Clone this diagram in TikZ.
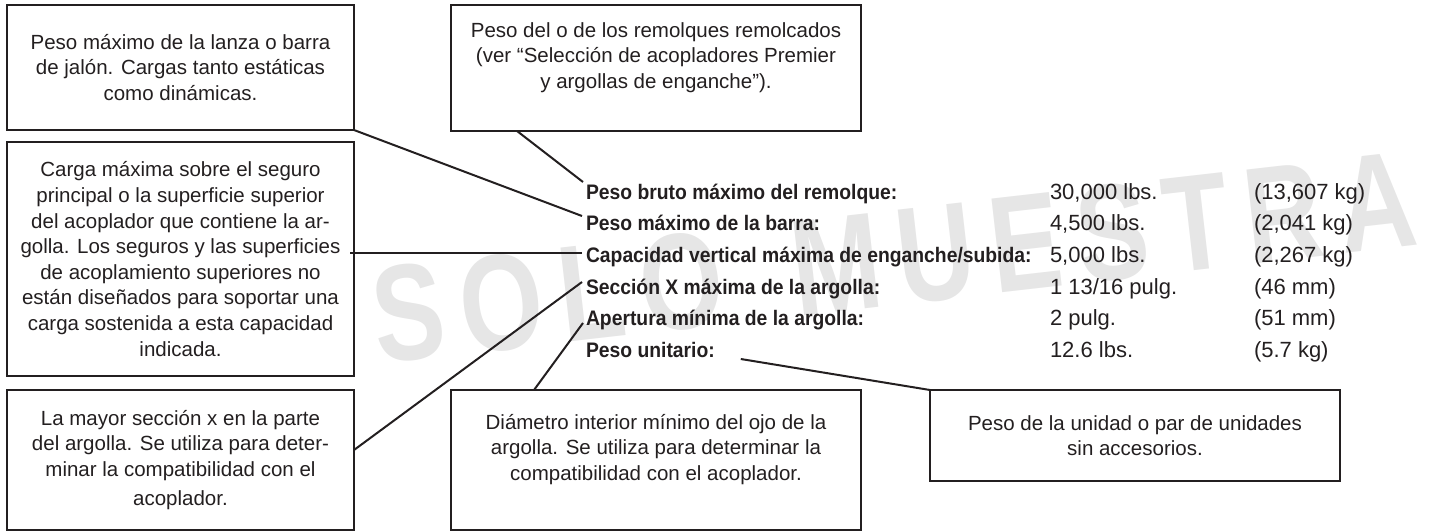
\documentclass[tikz,border=0pt]{standalone}
\usepackage{fontspec}
\setmainfont{Liberation Sans}
\newfontfamily\tblfont{Liberation Sans}[FakeStretch=0.92]
\newfontfamily\wmfont{Liberation Sans}[FakeStretch=0.78,LetterSpace=12]
\usepackage{xcolor}
\usepackage{tikz}
\usetikzlibrary{positioning}

\definecolor{ink}{HTML}{231F20}
\definecolor{wmgray}{HTML}{E6E6E6}

\tikzset{
  infobox/.style={draw=ink, line width=2.6pt, inner sep=0pt, outer sep=0pt,
    anchor=north west, align=center, text=ink,
    font=\fontsize{20.5}{25.6}\selectfont},
  lbl/.style={anchor=base west, inner sep=0pt, outer sep=0pt, text=ink,
    font={\tblfont\fontsize{21}{25}\selectfont\bfseries}},
  val/.style={anchor=base west, inner sep=0pt, outer sep=0pt, text=ink,
    font=\fontsize{22}{26}\selectfont},
  leader/.style={draw=ink, line width=2pt},
  wm/.style={anchor=base west, inner sep=0pt, text=wmgray,
    font={\wmfont\fontsize{137}{140}\selectfont\bfseries}},
}

\begin{document}
\begin{tikzpicture}[x=1pt,y=-1pt]
\useasboundingbox (0,0) rectangle (1444,531);

% watermark
\node[wm, rotate=6.5] (muestra) at (378,364) {SOLO\hspace{70pt}MUESTRA};

% boxes
\node[infobox, minimum width=347pt, minimum height=125pt] (lanza) at (7,5)
  {Peso máximo de la lanza o barra\\de jalón. Cargas tanto estáticas\\como dinámicas.};
\node[infobox, minimum width=410pt, minimum height=126pt] (remolques) at (451,5)
  {Peso del o de los remolques remolcados\\(ver “Selección de acopladores Premier\\y argollas de enganche”).\\ \mbox{}};
\node[infobox, minimum width=347pt, minimum height=234pt] (seguro) at (7,142)
  {Carga máxima sobre el seguro\\principal o la superficie superior\\del acoplador que contiene la ar-\\golla. Los seguros y las superficies\\de acoplamiento superiores no\\están diseñados para soportar una\\carga sostenida a esta capacidad\\indicada.};
\node[infobox, minimum width=347pt, minimum height=140pt] (mayor) at (7,390)
  {La mayor sección x en la parte\\del argolla. Se utiliza para deter-\\minar la compatibilidad con el\\[4pt]acoplador.};
\node[infobox, minimum width=410pt, minimum height=140pt] (diametro) at (451,390)
  {Diámetro interior mínimo del ojo de la\\argolla. Se utiliza para determinar la\\compatibilidad con el acoplador.\\ \mbox{}};
\node[infobox, minimum width=410pt, minimum height=91pt] (unidad) at (930,390)
  {Peso de la unidad o par de unidades\\sin accesorios.};

% table
\node[lbl] (bruto) at (586,199) {Peso bruto máximo del remolque:};
\node[lbl] (barra) at (586,230.5) {Peso máximo de la barra:};
\node[lbl] (capacidad) at (586,262) {Capacidad vertical máxima de enganche/subida:};
\node[lbl] (seccion) at (586,294) {Sección X máxima de la argolla:};
\node[lbl] (apertura) at (586,325.5) {Apertura mínima de la argolla:};
\node[lbl] (unitario) at (586,357) {Peso unitario:};

\node[val] (brutoLbs) at (1050,199) {30,000 lbs.};
\node[val] (barraLbs) at (1050,230.5) {4,500 lbs.};
\node[val] (capacidadLbs) at (1050,262) {5,000 lbs.};
\node[val] (seccionPulg) at (1050,294) {1 13/16 pulg.};
\node[val] (aperturaPulg) at (1050,325.5) {2 pulg.};
\node[val] (unitarioLbs) at (1050,357) {12.6 lbs.};

\node[val] (brutoKg) at (1254,199) {(13,607 kg)};
\node[val] (barraKg) at (1254,230.5) {(2,041 kg)};
\node[val] (capacidadKg) at (1254,262) {(2,267 kg)};
\node[val] (seccionMm) at (1254,294) {(46 mm)};
\node[val] (aperturaMm) at (1254,325.5) {(51 mm)};
\node[val] (unitarioKg) at (1254,357) {(5.7 kg)};

% leaders
\draw[leader] ([xshift=66pt]remolques.south west) -- ([xshift=-3pt,yshift=17pt]bruto.base west);
\draw[leader] (lanza.south east) -- ([xshift=-4pt,yshift=14.5pt]barra.base west);
\draw[leader] ([xshift=-4pt,yshift=9pt]capacidad.base west) -- ([xshift=-4pt,yshift=9pt]capacidad.base west -| seguro.east);
\draw[leader] ([yshift=10pt]mayor.east) -- ([xshift=-4pt,yshift=12pt]seccion.base west);
\draw[leader] ([xshift=83pt]diametro.north west) -- ([xshift=-3pt,yshift=2.5pt]apertura.base west);
\draw[leader] ([xshift=26pt,yshift=-2pt]unitario.base east) -- (unidad.north west);
\end{tikzpicture}
\end{document}
